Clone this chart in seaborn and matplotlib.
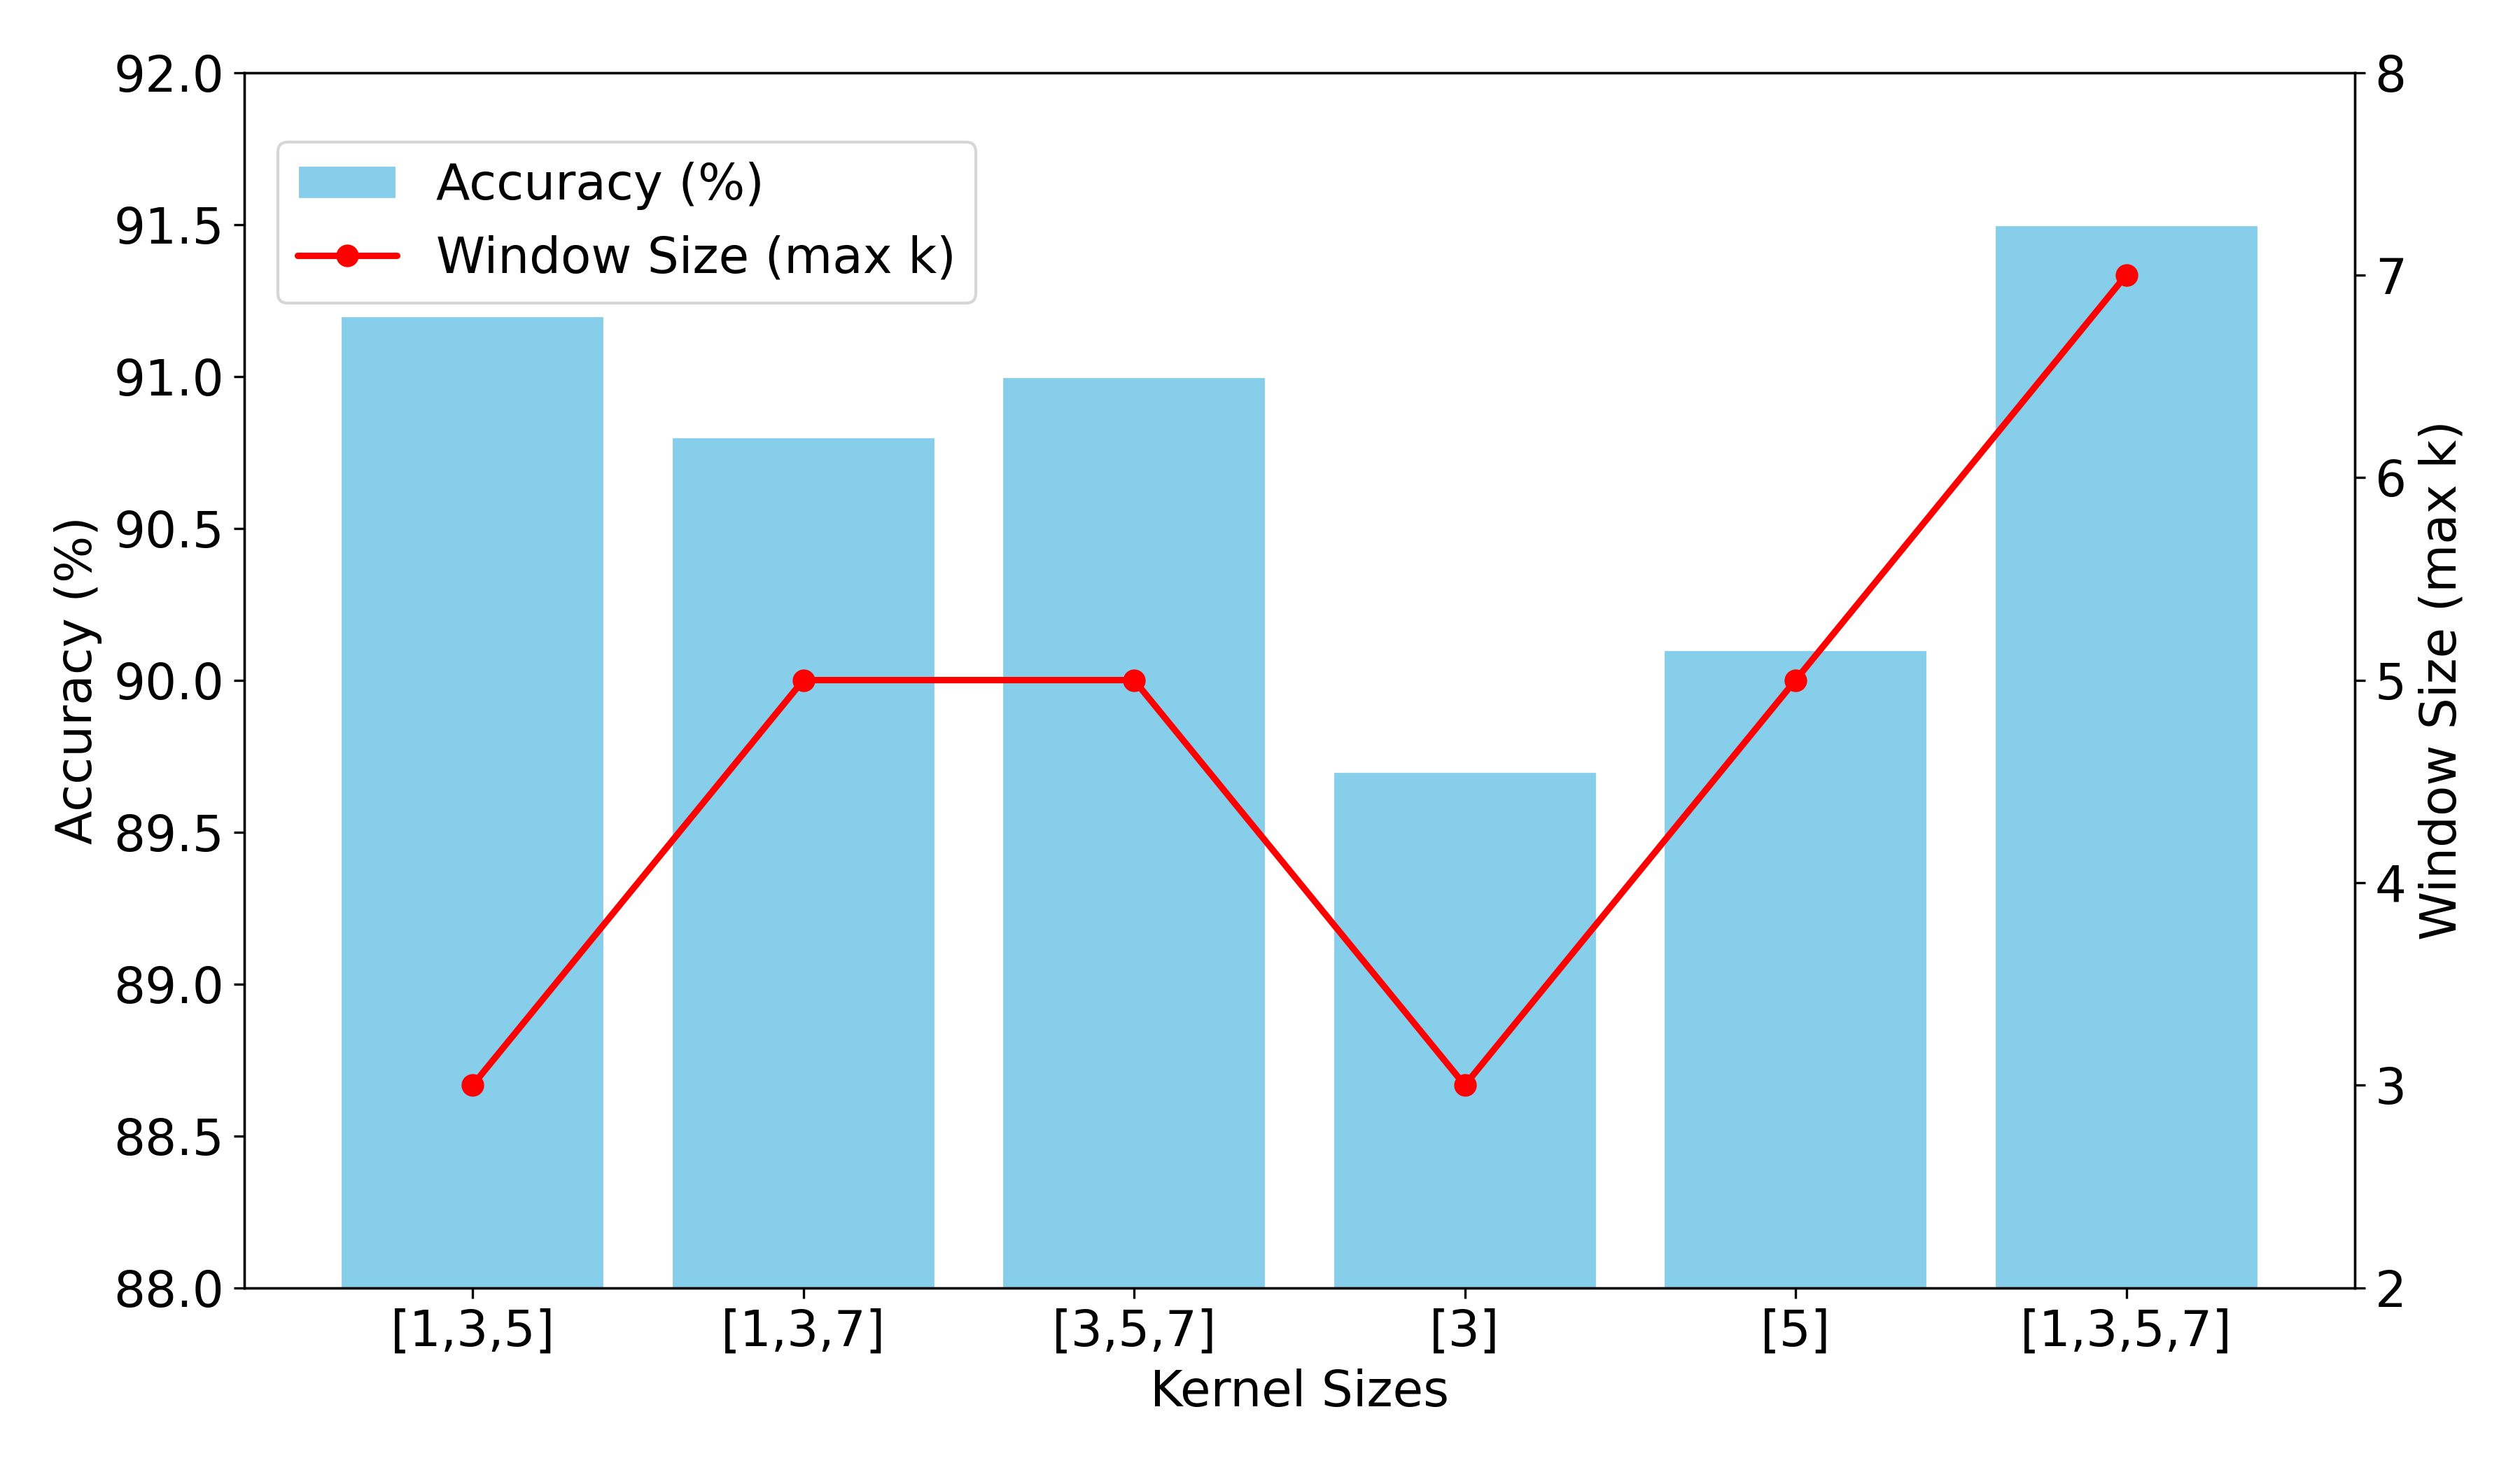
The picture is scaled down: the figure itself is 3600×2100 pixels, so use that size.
import matplotlib
matplotlib.use('Agg')
import matplotlib.pyplot as plt
import seaborn as sns
import pandas as pd

kernel_sizes = ['[1,3,5]', '[1,3,7]', '[3,5,7]', '[3]', '[5]', '[1,3,5,7]']
accuracy = [91.2, 90.8, 91.0, 89.7, 90.1, 91.5]
window_size = [3, 5, 5, 3, 5, 7]

sns.set_style('ticks')
plt.rcParams['font.family'] = ['DejaVu Sans']
plt.rcParams['font.size'] = 17
for k in ('text.color', 'axes.labelcolor', 'xtick.color', 'ytick.color'):
    plt.rcParams[k] = 'black'

df = pd.DataFrame({'kernel': kernel_sizes, 'acc': accuracy, 'win': window_size})

fig, ax1 = plt.subplots(figsize=(12, 7), dpi=300)
sns.barplot(data=df, x='kernel', y='acc', color='skyblue', saturation=1,
            width=0.8, ax=ax1, label='Accuracy (%)')
ax1.set_ylim(88, 92)
ax1.set_xlabel('Kernel Sizes', fontsize=17)
ax1.set_ylabel('Accuracy (%)', fontsize=17)
ax1.tick_params(labelsize=17)

ax2 = ax1.twinx()
sns.lineplot(data=df, x='kernel', y='win', color='red', marker='o',
             markersize=7, markeredgecolor='red', linewidth=2.2, ax=ax2,
             label='Window Size (max k)', sort=False)
ax2.set_ylim(2, 8)
ax2.set_ylabel('Window Size (max k)', fontsize=17)
ax2.tick_params(labelsize=17)

h1, l1 = ax1.get_legend_handles_labels()
h2, l2 = ax2.get_legend_handles_labels()
if ax2.get_legend():
    ax2.get_legend().remove()
if ax1.get_legend():
    ax1.get_legend().remove()
ax1.legend(h1 + h2, l1 + l2, loc='upper left', bbox_to_anchor=(0.004, 0.963), fontsize=17)

for ax in (ax1, ax2):
    for s in ax.spines.values():
        s.set_visible(True)
        s.set_color('black')

plt.tight_layout()
plt.savefig('out.png')
